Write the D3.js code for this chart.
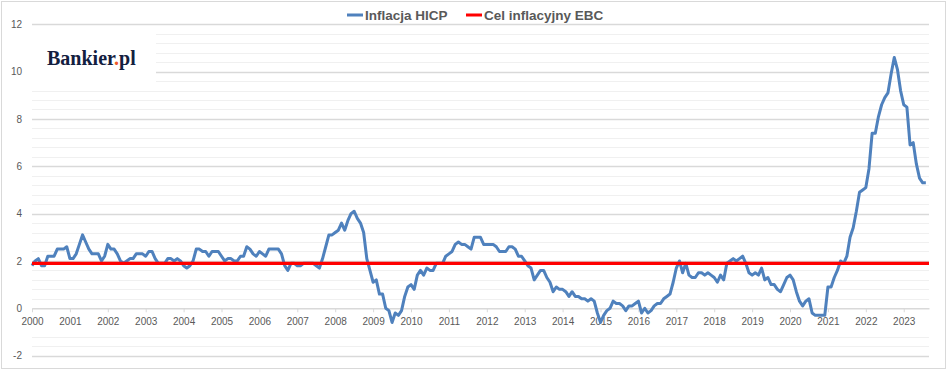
<!DOCTYPE html>
<html>
<head>
<meta charset="utf-8">
<script src="https://cdn.jsdelivr.net/npm/d3@7"></script>
<style>
  body { margin: 0; background: #fff; }
  svg { display: block; font-family: "Liberation Sans", Arial, sans-serif; }
</style>
</head>
<body>
<div id="chart"></div>
<script>
// monthly HICP y/y, Jan..Dec
const years = d3.range(2000, 2024).map(String);
const hicp2000 = [1.8, 2.0, 2.1, 1.8, 1.8, 2.2, 2.2, 2.2, 2.5, 2.5, 2.5, 2.6];
const hicp2001 = [2.1, 2.1, 2.3, 2.7, 3.1, 2.8, 2.5, 2.3, 2.3, 2.3, 2.0, 2.2];
const hicp2002 = [2.7, 2.5, 2.5, 2.3, 2.0, 1.9, 2.0, 2.1, 2.1, 2.3, 2.3, 2.3];
const hicp2003 = [2.2, 2.4, 2.4, 2.1, 1.9, 1.9, 1.9, 2.1, 2.1, 2.0, 2.1, 2.0];
const hicp2004 = [1.8, 1.7, 1.8, 2.0, 2.5, 2.5, 2.4, 2.4, 2.2, 2.4, 2.4, 2.4];
const hicp2005 = [2.2, 2.0, 2.1, 2.1, 2.0, 2.0, 2.2, 2.2, 2.6, 2.5, 2.3, 2.2];
const hicp2006 = [2.4, 2.3, 2.2, 2.5, 2.5, 2.5, 2.5, 2.3, 1.8, 1.6, 1.9, 1.9];
const hicp2007 = [1.8, 1.8, 1.9, 1.9, 1.9, 1.9, 1.8, 1.7, 2.1, 2.6, 3.1, 3.1];
const hicp2008 = [3.2, 3.3, 3.6, 3.3, 3.7, 4.0, 4.1, 3.8, 3.6, 3.2, 2.1, 1.6];
const hicp2009 = [1.1, 1.2, 0.6, 0.6, 0.0, -0.1, -0.6, -0.2, -0.3, -0.1, 0.5, 0.9];
const hicp2010 = [1.0, 0.8, 1.4, 1.6, 1.4, 1.7, 1.6, 1.6, 1.9, 1.9, 1.9, 2.2];
const hicp2011 = [2.3, 2.4, 2.7, 2.8, 2.7, 2.7, 2.6, 2.5, 3.0, 3.0, 3.0, 2.7];
const hicp2012 = [2.7, 2.7, 2.7, 2.6, 2.4, 2.4, 2.4, 2.6, 2.6, 2.5, 2.2, 2.2];
const hicp2013 = [2.0, 1.8, 1.7, 1.2, 1.4, 1.6, 1.6, 1.3, 1.1, 0.7, 0.9, 0.8];
const hicp2014 = [0.8, 0.7, 0.5, 0.7, 0.5, 0.5, 0.4, 0.4, 0.3, 0.4, 0.3, -0.2];
const hicp2015 = [-0.6, -0.3, -0.1, 0.0, 0.3, 0.2, 0.2, 0.1, -0.1, 0.1, 0.1, 0.2];
const hicp2016 = [0.3, -0.2, 0.0, -0.2, -0.1, 0.1, 0.2, 0.2, 0.4, 0.5, 0.6, 1.1];
const hicp2017 = [1.7, 2.0, 1.5, 1.9, 1.4, 1.3, 1.3, 1.5, 1.5, 1.4, 1.5, 1.4];
const hicp2018 = [1.3, 1.1, 1.4, 1.2, 1.9, 2.0, 2.1, 2.0, 2.1, 2.2, 1.9, 1.5];
const hicp2019 = [1.4, 1.5, 1.4, 1.7, 1.2, 1.3, 1.0, 1.0, 0.8, 0.7, 1.0, 1.3];
const hicp2020 = [1.4, 1.2, 0.7, 0.3, 0.1, 0.3, 0.4, -0.2, -0.3, -0.3, -0.3, -0.3];
const hicp2021 = [0.9, 0.9, 1.3, 1.6, 2.0, 1.9, 2.2, 3.0, 3.4, 4.1, 4.9, 5.0];
const hicp2022 = [5.1, 5.9, 7.4, 7.4, 8.1, 8.6, 8.9, 9.1, 9.9, 10.6, 10.1, 9.2];
const hicp2023 = [8.6, 8.5, 6.9, 7.0, 6.1, 5.5, 5.3, 5.3];
const target = 1.9;
const seriesNames = ["Inflacja HICP", "Cel inflacyjny EBC"];
const yTicks = [-2, 0, 2, 4, 6, 8, 10, 12];

const hicp = [].concat(hicp2000, hicp2001, hicp2002, hicp2003, hicp2004, hicp2005,
    hicp2006, hicp2007, hicp2008, hicp2009, hicp2010, hicp2011, hicp2012, hicp2013,
    hicp2014, hicp2015, hicp2016, hicp2017, hicp2018, hicp2019, hicp2020, hicp2021,
    hicp2022, hicp2023);
const targetLine = hicp.map(() => target);

const width = 948;
const height = 372;
const margin = {top: 24.3, right: 19, bottom: 16.4, left: 32};
const blue = "#4f81bd";
const red = "#ff0000";
const textColor = "#595959";

const x = d3.scaleLinear()
    .domain([0, 284])
    .range([margin.left, width - margin.right]);

const y = d3.scaleLinear()
    .domain([-2, 12])
    .range([height - margin.bottom, margin.top]);

const svg = d3.select("#chart")
    .append("svg")
    .attr("width", width)
    .attr("height", height);

svg.append("rect")
    .attr("x", 1.5).attr("y", 1.5)
    .attr("width", 944).attr("height", 367)
    .attr("fill", "#fff")
    .attr("stroke", "#d9d9d9");

// minor gridlines every 0.4
const minor = d3.range(0, 36).map(k => -2 + k * 0.4)
    .filter((v, k) => k % 5 !== 0 && !(v > -1 && v < 0));
svg.append("g")
    .selectAll("line")
    .data(minor)
    .join("line")
    .attr("x1", x(0)).attr("x2", x(284))
    .attr("y1", d => Math.round(y(d)) + 0.5)
    .attr("y2", d => Math.round(y(d)) + 0.5)
    .attr("stroke", "#f0f0f0");

svg.append("g")
    .selectAll("line")
    .data(yTicks.filter(d => d !== 0))
    .join("line")
    .attr("x1", x(0)).attr("x2", x(284))
    .attr("y1", d => Math.round(y(d)) + 0.5)
    .attr("y2", d => Math.round(y(d)) + 0.5)
    .attr("stroke", "#d9d9d9")
    .attr("stroke-width", 1.3);

// logo box hides the grid under it
svg.append("rect")
    .attr("x", x(0)).attr("y", 28)
    .attr("width", 124).attr("height", 57)
    .attr("fill", "#fff");

const logo = svg.append("text")
    .attr("x", 47)
    .attr("y", 65)
    .style("font-family", "'Liberation Serif', 'DejaVu Serif', serif")
    .style("font-weight", "bold")
    .style("font-size", "20px")
    .attr("fill", "#13203f");
logo.append("tspan").text("Bankier");
logo.append("tspan").attr("fill", "#f05a28").text(".");
logo.append("tspan").text("pl");

// x axis
const xAxis = svg.append("g")
    .attr("transform", `translate(0, ${y(0)})`)
    .call(d3.axisBottom(x)
        .tickValues(years.map((d, i) => i * 12))
        .tickFormat((d, i) => years[i])
        .tickSize(4)
        .tickSizeOuter(0)
        .tickPadding(6));
xAxis.select(".domain").attr("stroke", "#d9d9d9").attr("stroke-width", 1.3);
xAxis.selectAll(".tick line").attr("stroke", "#d9d9d9");
xAxis.selectAll("text")
    .attr("fill", textColor)
    .style("font-size", "10px")
    .style("font-family", "'Liberation Sans', Arial, sans-serif");

// y axis
const yAxis = svg.append("g")
    .attr("transform", `translate(22, 0)`)
    .call(d3.axisLeft(y).tickValues(yTicks).tickFormat(d => String(d)).tickSize(0).tickPadding(0));
yAxis.select(".domain").remove();
yAxis.selectAll("text")
    .attr("fill", textColor)
    .style("font-size", "10px")
    .style("font-family", "'Liberation Sans', Arial, sans-serif");

const line = d3.line()
    .x((d, i) => x(i))
    .y(d => y(d));

svg.append("path")
    .datum(hicp)
    .attr("fill", "none")
    .attr("stroke", blue)
    .attr("stroke-width", 3)
    .attr("stroke-linejoin", "round")
    .attr("d", line);

svg.append("path")
    .datum(targetLine)
    .attr("fill", "none")
    .attr("stroke", red)
    .attr("stroke-width", 3.2)
    .attr("d", d3.line().x((d, i) => x(i * 284 / (targetLine.length - 1))).y(d => y(d)));

// legend
const legend = svg.append("g").attr("transform", "translate(347, 15)");
const legendItems = [
    {name: seriesNames[0], color: blue, dx: 0},
    {name: seriesNames[1], color: red, dx: 119}
];
const li = legend.selectAll("g")
    .data(legendItems)
    .join("g")
    .attr("transform", d => `translate(${d.dx}, 0)`);
li.append("line")
    .attr("x1", 0).attr("x2", 16)
    .attr("stroke", d => d.color)
    .attr("stroke-width", 3);
li.append("text")
    .attr("x", 18)
    .attr("dy", "0.35em")
    .attr("fill", textColor)
    .style("font-size", "13.5px")
    .style("font-weight", "bold")
    .text(d => d.name);
</script>
</body>
</html>
